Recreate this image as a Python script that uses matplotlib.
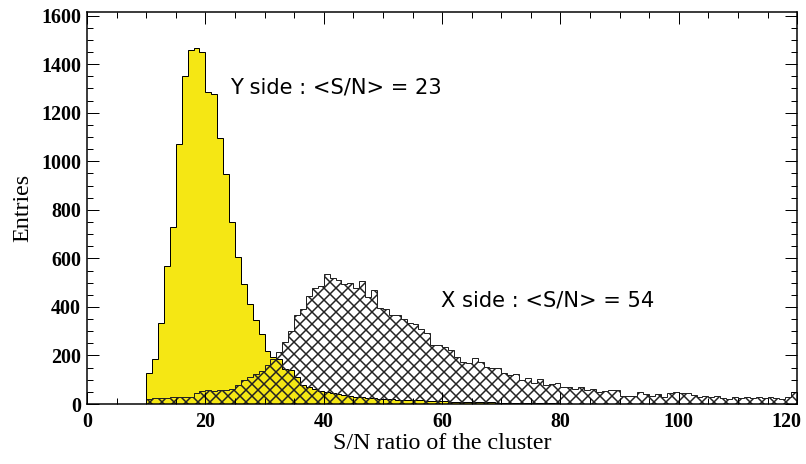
import numpy as np
import matplotlib
matplotlib.use("Agg")
import matplotlib.pyplot as plt
from matplotlib.ticker import MultipleLocator, FuncFormatter

# bin edges: 1 S/N unit per bin, from 10 to 120
bin_lo = 10
bin_hi = 120

# Y side cluster S/N (yellow filled histogram), one value per bin starting at 10
y_side = [127, 184, 335, 569, 731, 1072, 1350, 1460, 1465, 1449,
          1284, 1278, 1096, 948, 748, 607, 495, 412, 346, 289,
          220, 195, 187, 146, 140, 111, 77, 70, 63, 55,
          49, 45, 40, 36, 33, 30, 29, 26, 24, 22,
          22, 20, 18, 18, 16, 15, 15, 14, 12, 12,
          12, 10, 10, 9, 9, 8, 8, 7, 7, 6,
          6, 5, 5, 5, 4, 4, 4, 3, 3, 3,
          2, 2, 2, 2, 1, 1, 1, 1, 1, 1,
          1, 1, 0, 1, 0, 0, 1, 0, 0, 0,
          0, 0, 0, 0, 0, 0, 0, 0, 0, 0,
          0, 0, 0, 0, 0, 0, 0, 0, 0, 0]

# X side cluster S/N (hatched histogram)
x_side = [22, 25, 26, 24, 28, 30, 28, 30, 45, 55,
          56, 55, 57, 58, 60, 80, 98, 112, 125, 138,
          160, 185, 215, 255, 300, 365, 392, 445, 480, 487,
          537, 519, 510, 496, 500, 478, 505, 440, 470, 395,
          390, 367, 367, 349, 333, 330, 308, 291, 243, 243,
          236, 223, 195, 175, 170, 188, 175, 154, 147, 147,
          127, 120, 125, 99, 106, 85, 102, 78, 81, 88,
          69, 71, 60, 69, 58, 60, 51, 55, 58, 58,
          33, 35, 35, 49, 40, 33, 43, 30, 44, 48,
          44, 44, 39, 28, 33, 28, 33, 24, 19, 28,
          24, 30, 24, 30, 24, 30, 24, 19, 28, 51]

edges = np.arange(bin_lo, bin_hi + 1, 1)

yellow = "#f5e714"
serif = "Liberation Serif"

plt.rcParams["hatch.linewidth"] = 1.5
plt.rcParams["hatch.color"] = "#222222"

fig = plt.figure(figsize=(806 / 72, 464 / 72), dpi=72)
ax = fig.add_axes([0.108, 0.1293, 0.881, 0.8448])

ax.stairs(y_side, edges, fill=True, facecolor=yellow, edgecolor="black",
          linewidth=1.0, baseline=0)
ax.stairs(x_side, edges, fill=True, facecolor="none", edgecolor="#222222",
          hatch="xx", linewidth=1.0, baseline=0)

ax.set_xlim(0, 120)
ax.set_ylim(0, 1615)

ax.xaxis.set_major_locator(MultipleLocator(20))
ax.xaxis.set_minor_locator(MultipleLocator(5))
ax.yaxis.set_major_locator(MultipleLocator(200))
ax.yaxis.set_minor_locator(MultipleLocator(50))
# the 120 label is drawn separately so it can sit inside the right edge
ax.xaxis.set_major_formatter(FuncFormatter(lambda v, p: "" if v >= 120 else "%d" % v))
ax.tick_params(which="both", direction="in", top=True, right=True, width=1.0)
ax.tick_params(which="major", length=12)
ax.tick_params(which="minor", length=6)
ax.tick_params(axis="x", which="major", pad=8)
ax.tick_params(axis="y", which="major", pad=6)

tick_font = dict(family=serif, weight="bold", size=20)
for lab in ax.get_xticklabels() + ax.get_yticklabels():
    lab.set_fontfamily(serif)
    lab.set_fontweight("bold")
    lab.set_fontsize(20)
ax.annotate("120", xy=(120, 0), xycoords="data", xytext=(4, -8),
            textcoords="offset points", ha="right", va="top", **tick_font)

for s in ax.spines.values():
    s.set_linewidth(1.5)

ax.set_xlabel("S/N ratio of the cluster", fontfamily=serif, fontsize=24, labelpad=1)
ax.set_ylabel("Entries", fontfamily=serif, fontsize=24, labelpad=8)

ax.text(24.2, 1302, "Y side : <S/N> = 23", fontsize=21, va="center", ha="left")
ax.text(59.8, 428, "X side : <S/N> = 54", fontsize=21, va="center", ha="left")

fig.savefig("out.png", dpi=72)
